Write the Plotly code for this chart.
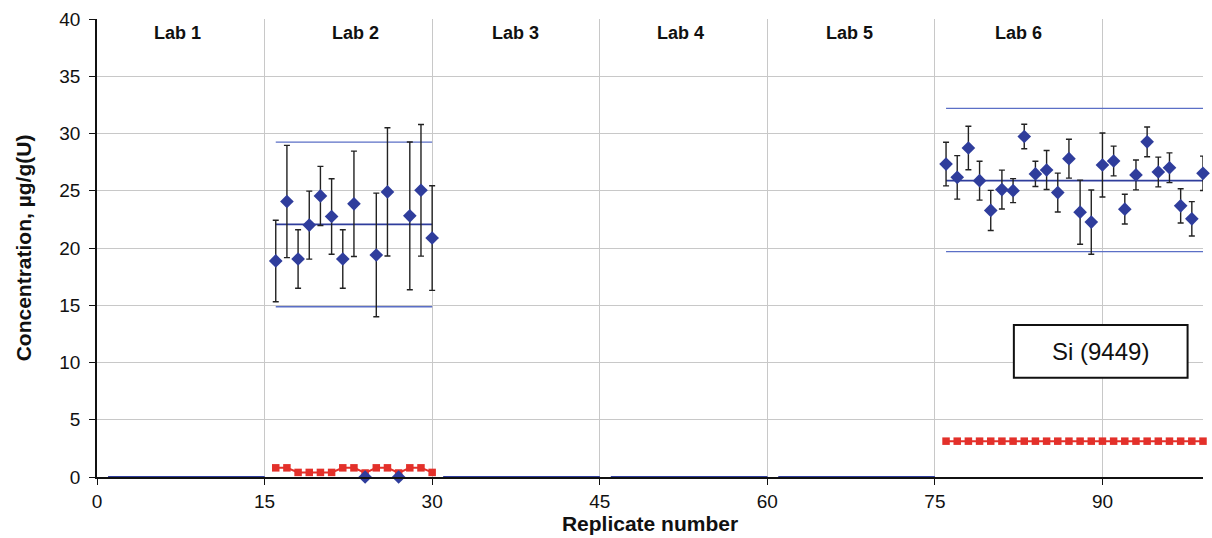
import plotly.graph_objects as go

# Silicon in uranium (sample 9449): replicate results per laboratory
lab_names = ["Lab 1", "Lab 2", "Lab 3", "Lab 4", "Lab 5", "Lab 6"]
lab_first = [1, 16, 31, 46, 61, 76]
lab_last = [15, 30, 45, 60, 75, 99]
lab_mean = [0, 22.06, 0, 0, 0, 25.88]
lab_upper = [0, 29.25, 0, 0, 0, 32.2]
lab_lower = [0, 14.87, 0, 0, 0, 19.68]

lab2_replicates = list(range(16, 31))
lab2_si = [18.87, 24.06, 19.04, 22.0, 24.55, 22.75, 19.04, 23.86, 0, 19.39,
           24.9, 0, 22.81, 25.04, 20.87]
lab2_unc = [3.56, 4.9, 2.55, 2.97, 2.58, 3.3, 2.55, 4.6, None, 5.4,
            5.6, None, 6.45, 5.75, 4.57]
lab2_dl = [0.8, 0.8, 0.4, 0.4, 0.4, 0.4, 0.8, 0.8, 0.35, 0.8,
           0.8, 0.35, 0.8, 0.8, 0.4]

lab6_replicates = list(range(76, 100))
lab6_si = [27.33, 26.17, 28.73, 25.88, 23.28, 25.1, 25.01, 29.74, 26.47, 26.81,
           24.84, 27.8, 23.13, 22.26, 27.25, 27.6, 23.39, 26.38, 29.27, 26.64,
           27.01, 23.68, 22.55, 26.52]
lab6_unc = [1.9, 1.9, 1.9, 1.7, 1.75, 1.7, 1.05, 1.07, 1.1, 1.7,
            1.7, 1.7, 2.8, 2.8, 2.8, 1.3, 1.3, 1.3, 1.3, 1.3,
            1.3, 1.5, 1.5, 1.5]
lab6_dl = [3.13] * 24

NAVY = "#2f3d9c"
LIMIT = "#5b6fc6"
RED = "#e3302a"
FONT = "Liberation Sans, Arial, sans-serif"


def segments(values):
    xs, ys = [], []
    for a, b, v in zip(lab_first, lab_last, values):
        xs += [a, b, None]
        ys += [v, v, None]
    return xs, ys


fig = go.Figure()

for vals, color, width in [(lab_upper, LIMIT, 1.3), (lab_lower, LIMIT, 1.3),
                           (lab_mean, NAVY, 1.8)]:
    sx, sy = segments(vals)
    fig.add_trace(go.Scatter(x=sx, y=sy, mode="lines",
                             line=dict(color=color, width=width),
                             cliponaxis=False,
                             hoverinfo="skip", showlegend=False))

for xs, ys in [(lab2_replicates, lab2_dl), (lab6_replicates, lab6_dl)]:
    fig.add_trace(go.Scatter(x=xs, y=ys, mode="lines+markers",
                             line=dict(color=RED, width=2),
                             marker=dict(symbol="square", size=7.5, color=RED),
                             cliponaxis=False, showlegend=False))

for xs, ys, err in [(lab2_replicates, lab2_si, lab2_unc),
                    (lab6_replicates, lab6_si, lab6_unc)]:
    fig.add_trace(go.Scatter(x=xs, y=ys, mode="markers",
                             marker=dict(symbol="diamond", size=10.5, color=NAVY),
                             error_y=dict(type="data", array=err, visible=True,
                                          color="#222222", thickness=1.4, width=3),
                             cliponaxis=False, showlegend=False))

annotations = []
label_x = [7.25, 23.1, 37.5, 52.2, 67.4, 82.5]
for name, lx in zip(lab_names, label_x):
    annotations.append(dict(x=lx, y=38.8, xref="x", yref="y", text=name,
                            showarrow=False,
                            font=dict(family=FONT, size=18, color="#111111",
                                      weight="bold")))
annotations.append(dict(x=89.85, y=10.97, xref="x", yref="y", text="Si (9449)",
                        showarrow=False,
                        font=dict(family=FONT, size=24, color="#111111")))

fig.add_shape(type="rect", x0=82.07, x1=97.62, y0=8.67, y1=13.28,
              xref="x", yref="y", line=dict(color="#111111", width=2),
              fillcolor="white", layer="above")

fig.update_layout(
    width=1212, height=538,
    margin=dict(l=97, r=9, t=17, b=61),
    paper_bgcolor="white", plot_bgcolor="white",
    annotations=annotations,
    font=dict(family=FONT, size=18, color="#111111"),
)
fig.update_xaxes(range=[0, 99], tick0=0, dtick=15, showgrid=True,
                 gridcolor="#c8c8c8", gridwidth=1.3, zeroline=False,
                 showline=True, linecolor="#111111", linewidth=1.5,
                 ticks="outside", ticklen=6, tickcolor="#111111",
                 tickfont=dict(size=19),
                 title=dict(text="<b>Replicate number</b>", standoff=1,
                            font=dict(size=21)))
fig.update_yaxes(range=[0, 40], tick0=0, dtick=5, showgrid=True,
                 gridcolor="#c8c8c8", gridwidth=1.3, zeroline=False,
                 showline=True, linecolor="#111111", linewidth=1.5,
                 ticks="outside", ticklen=6, tickcolor="#111111",
                 ticklabelstandoff=5,
                 tickfont=dict(size=19),
                 title=dict(text="<b>Concentration, µg/g(U)</b>", standoff=22,
                            font=dict(size=21)))

fig.write_html("out.html")
